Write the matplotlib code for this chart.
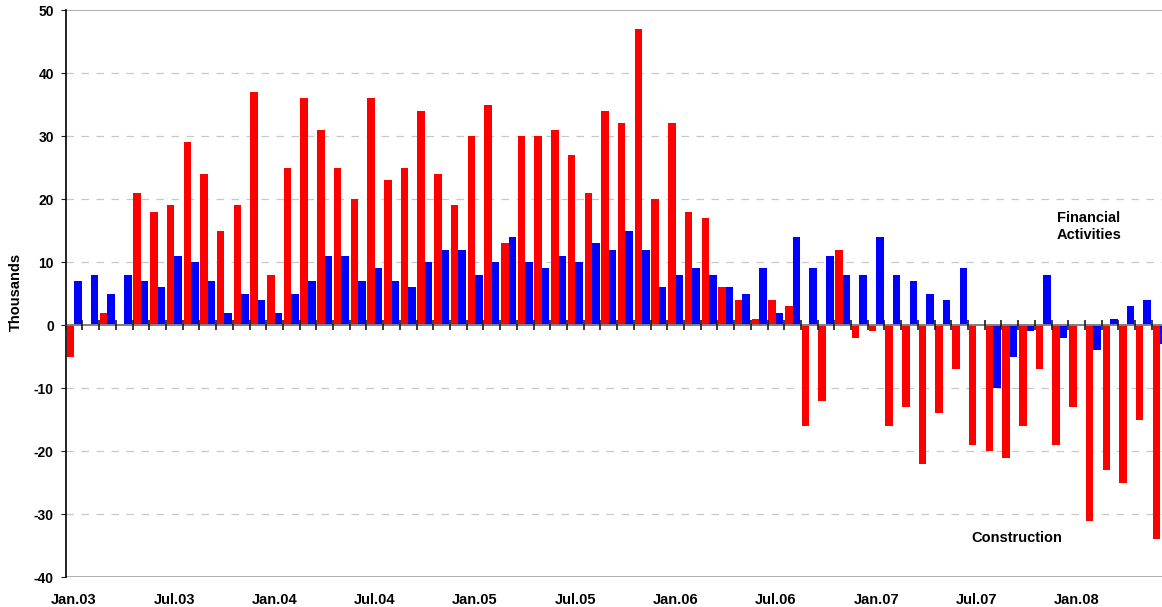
import matplotlib
matplotlib.use("Agg")
import matplotlib.pyplot as plt
import numpy as np

months = ["Jan.03", "Jul.03", "Jan.04", "Jul.04", "Jan.05", "Jul.05",
          "Jan.06", "Jul.06", "Jan.07", "Jul.07", "Jan.08"]
construction = [-5, 0, 2, 0, 21, 18, 19, 29, 24, 15, 19, 37,
                8, 25, 36, 31, 25, 20, 36, 23, 25, 34, 24, 19,
                30, 35, 13, 30, 30, 31, 27, 21, 34, 32, 47, 20,
                32, 18, 17, 6, 4, 1, 4, 3, -16, -12, 12, -2,
                -1, -16, -13, -22, -14, -7, -19, -20, -21, -16, -7, -19,
                -13, -31, -23, -25, -15, -34]
financial = [7, 8, 5, 8, 7, 6, 11, 10, 7, 2, 5, 4,
             2, 5, 7, 11, 11, 7, 9, 7, 6, 10, 12, 12,
             8, 10, 14, 10, 9, 11, 10, 13, 12, 15, 12, 6,
             8, 9, 8, 6, 5, 9, 2, 14, 9, 11, 8, 8,
             14, 8, 7, 5, 4, 9, 0, -10, -5, -1, 8, -2,
             0, -4, 1, 3, 4, -3]
yticks = [-40, -30, -20, -10, 0, 10, 20, 30, 40, 50]

plt.rcParams['font.family'] = ['Liberation Sans', 'DejaVu Sans']
plt.rcParams['font.weight'] = 'bold'

W, H = 1162, 607
fig = plt.figure(figsize=(W / 100, H / 100), dpi=100)
left = 65.7 / W
right = (65.7 + 66 * 16.71) / W
bottom = 1 - 577.3 / H
top = 1 - 10 / H
ax = fig.add_axes([left, bottom, right - left, top - bottom])

n = len(construction)
x = np.arange(n)
bw = 0.45
ax.bar(x - bw / 2, construction, width=bw, color='#FF0000', zorder=2)
ax.bar(x + bw / 2, financial, width=bw, color='#0000FF', zorder=2)

ax.set_xlim(-0.5, n - 0.5)
ax.set_ylim(-40, 50)

# gridlines
for yv in yticks:
    if yv in (-40, 50):
        ax.axhline(yv, color='#A0A0A0', lw=1.2, zorder=1)
    elif yv != 0:
        ax.axhline(yv, color='#C8C8C8', lw=0.9, dashes=(6, 6), zorder=1)

ax.spines['top'].set_visible(False)
ax.spines['right'].set_visible(False)
ax.spines['bottom'].set_position(('data', 0))
ax.spines['bottom'].set_color('#808080')
ax.spines['bottom'].set_linewidth(1.4)
ax.spines['bottom'].set_zorder(4)
ax.spines['left'].set_color('black')
ax.spines['left'].set_linewidth(1.2)
ax.xaxis.set_zorder(5)

ax.set_xticks(np.arange(-0.5, n, 1.0))
ax.set_xticklabels([])
ax.tick_params(axis='x', direction='inout', length=6.5, width=1.2, color='#1A1A1A')

ax.set_yticks(yticks)
ax.set_yticklabels([str(v) for v in yticks], fontsize=10, fontweight='bold')
ax.tick_params(axis='y', direction='out', length=3.6, width=0.8, pad=5, color='#202020')

trans = ax.get_xaxis_transform()
for i, lbl in enumerate(months):
    ax.annotate(lbl, (i * 6, 0), xycoords=trans, xytext=(0, -19.5),
                textcoords='offset points', ha='center', va='baseline',
                fontsize=10.5, fontweight='bold', annotation_clip=False)

fig.text(16 / W, 1 - 292 / H, 'Thousands', rotation=90, ha='center', va='center',
         fontsize=10.5, fontweight='bold')

ax.text(60.74, 15.66, 'Financial\nActivities', ha='center', va='center',
        multialignment='center', fontsize=10.5, fontweight='bold', zorder=5)
ax.text(56.43, -33.76, 'Construction', ha='center', va='center',
        fontsize=10.5, fontweight='bold', zorder=5)

fig.savefig('out.png', dpi=100)
